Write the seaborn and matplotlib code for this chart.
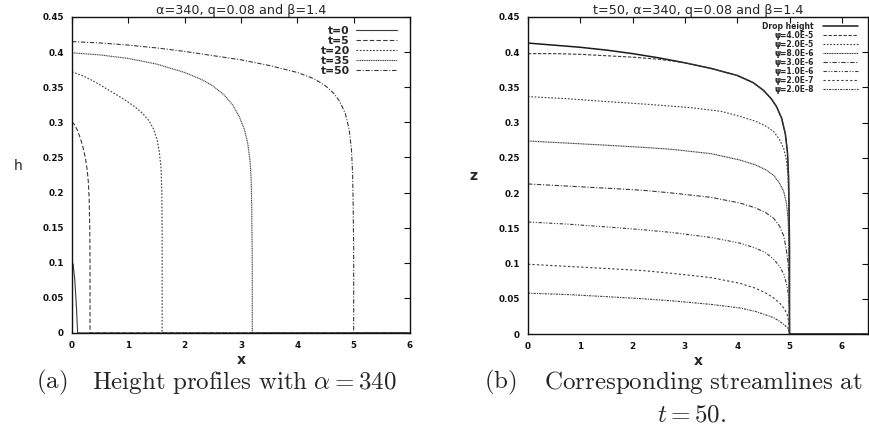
import numpy as np
import pandas as pd
import matplotlib
matplotlib.use("Agg")
import matplotlib.pyplot as plt
import seaborn as sns

# ---------------- data ----------------
t_labels = ["t=0", "t=5", "t=20", "t=35", "t=50"]
t0_x = [0.0, 0.02, 0.05, 0.08, 0.10, 6.0]
t0_h = [0.100, 0.098, 0.075, 0.035, 0.0, 0.0]
t5_x = [0.0, 0.05, 0.10, 0.15, 0.20, 0.24, 0.27, 0.29, 0.305, 0.315, 0.32, 0.32, 6.0]
t5_h = [0.301, 0.296, 0.288, 0.277, 0.263, 0.248, 0.232, 0.215, 0.19, 0.15, 0.10, 0.0, 0.0]
t20_x = [0.0, 0.2, 0.4, 0.67, 0.9, 1.1, 1.25, 1.37, 1.45, 1.51, 1.55, 1.58, 1.595, 1.6, 1.6, 6.0]
t20_h = [0.372, 0.366, 0.358, 0.345, 0.334, 0.323, 0.313, 0.302, 0.290, 0.275, 0.258, 0.235,
         0.20, 0.15, 0.0, 0.0]
t35_x = [0.0, 0.5, 1.0, 1.5, 2.0, 2.3, 2.5, 2.7, 2.85, 2.97, 3.06, 3.12, 3.16, 3.18, 3.19,
         3.2, 3.2, 6.0]
t35_h = [0.399, 0.396, 0.391, 0.383, 0.371, 0.361, 0.352, 0.339, 0.325, 0.308, 0.290, 0.270,
         0.245, 0.22, 0.18, 0.10, 0.0, 0.0]
t50_x = [0.0, 0.5, 1.0, 1.5, 2.0, 2.5, 3.0, 3.5, 4.0, 4.3, 4.5, 4.65, 4.75, 4.85, 4.92, 4.96,
         4.98, 4.99, 5.0, 5.0, 6.0]
t50_h = [0.415, 0.413, 0.410, 0.406, 0.401, 0.395, 0.389, 0.381, 0.371, 0.362, 0.352, 0.341,
         0.330, 0.313, 0.290, 0.262, 0.23, 0.19, 0.12, 0.0, 0.0]

psi_labels = ["Drop height", "\u03c8=4.0E-5", "\u03c8=2.0E-5", "\u03c8=8.0E-6",
              "\u03c8=3.0E-6", "\u03c8=1.0E-6", "\u03c8=2.0E-7", "\u03c8=2.0E-8"]
drop_x = [0.0, 0.5, 1.0, 1.5, 2.0, 2.5, 3.0, 3.5, 4.0, 4.3, 4.5, 4.65, 4.75, 4.85, 4.92,
          4.96, 4.98, 4.99, 5.0, 5.0, 6.5]
drop_z = [0.413, 0.410, 0.407, 0.403, 0.398, 0.392, 0.385, 0.377, 0.367, 0.357, 0.346, 0.334,
          0.323, 0.306, 0.284, 0.258, 0.225, 0.185, 0.12, 0.0, 0.0]
p1_x = [0.0, 0.5, 1.0, 1.5, 2.0, 2.5, 3.0, 3.5, 4.0, 4.3, 4.5, 4.65, 4.75, 4.85, 4.92, 4.96,
        4.98, 4.99, 5.0]
p1_z = [0.398, 0.398, 0.397, 0.395, 0.393, 0.390, 0.385, 0.377, 0.367, 0.357, 0.346, 0.334,
        0.323, 0.306, 0.284, 0.258, 0.225, 0.185, 0.0]
p2_x = [0.0, 0.75, 1.5, 2.3, 3.16, 3.7, 4.05, 4.35, 4.55, 4.7, 4.81, 4.89, 4.94, 4.97, 4.99, 5.0]
p2_z = [0.337, 0.334, 0.330, 0.326, 0.321, 0.316, 0.309, 0.302, 0.295, 0.287, 0.276, 0.263,
        0.247, 0.225, 0.176, 0.0]
p3_x = [0.0, 0.75, 1.5, 2.2, 2.77, 3.5, 4.05, 4.35, 4.55, 4.7, 4.81, 4.89, 4.94, 4.97, 4.99, 5.0]
p3_z = [0.274, 0.271, 0.268, 0.265, 0.262, 0.256, 0.247, 0.240, 0.233, 0.225, 0.214, 0.202,
        0.186, 0.165, 0.129, 0.0]
p4_x = [0.0, 0.75, 1.5, 2.2, 2.77, 3.5, 4.05, 4.35, 4.55, 4.7, 4.81, 4.89, 4.94, 4.97, 4.99, 5.0]
p4_z = [0.213, 0.210, 0.207, 0.204, 0.200, 0.194, 0.186, 0.179, 0.172, 0.164, 0.153, 0.139,
        0.119, 0.102, 0.082, 0.0]
p5_x = [0.0, 0.75, 1.5, 2.2, 2.77, 3.5, 4.05, 4.35, 4.55, 4.7, 4.81, 4.89, 4.94, 4.97, 4.99, 5.0]
p5_z = [0.159, 0.156, 0.152, 0.148, 0.144, 0.137, 0.129, 0.122, 0.115, 0.106, 0.096, 0.085,
        0.072, 0.060, 0.044, 0.0]
p6_x = [0.0, 0.75, 1.5, 2.2, 2.77, 3.5, 4.05, 4.35, 4.55, 4.7, 4.81, 4.9, 4.97, 5.0]
p6_z = [0.099, 0.096, 0.093, 0.090, 0.086, 0.080, 0.072, 0.065, 0.058, 0.051, 0.044, 0.036,
        0.025, 0.0]
p7_x = [0.0, 0.75, 1.5, 2.2, 2.77, 3.5, 4.05, 4.35, 4.55, 4.7, 4.81, 4.9, 4.97, 5.0]
p7_z = [0.058, 0.056, 0.053, 0.050, 0.047, 0.042, 0.037, 0.032, 0.027, 0.023, 0.018, 0.013,
        0.008, 0.0]

x_ticks_a = [0, 1, 2, 3, 4, 5, 6]
y_ticks = [0, 0.05, 0.1, 0.15, 0.2, 0.25, 0.3, 0.35, 0.4, 0.45]
y_tick_labels = ["0", "0.05", "0.1", "0.15", "0.2", "0.25", "0.3", "0.35", "0.4", "0.45"]

# ---------------- styling ----------------
sns.set_theme(style="white")
plt.rcParams["font.family"] = ["DejaVu Sans"]
plt.rcParams["mathtext.fontset"] = "cm"

fig = plt.figure(figsize=(8.69, 4.34), dpi=100)
axA = fig.add_axes([72 / 869, 101 / 434, 338 / 869, 316 / 434])
axB = fig.add_axes([528 / 869, 100 / 434, 340 / 869, 317 / 434])

lc = "#3a3a3a"
t_styles = ["-", (0, (4, 2)), (0, (1.5, 1.5)), (0, (1, 0.6)), (0, (4, 1.5, 1, 1.5))]
t_data = [(t0_x, t0_h), (t5_x, t5_h), (t20_x, t20_h), (t35_x, t35_h), (t50_x, t50_h)]
for lab, (xs, ys), ls in zip(t_labels, t_data, t_styles):
    df = pd.DataFrame({"x": xs, "h": ys})
    sns.lineplot(data=df, x="x", y="h", ax=axA, sort=False, estimator=None,
                 color=lc, linewidth=0.8, linestyle=ls, label=lab)

p_styles = ["-", (0, (3, 1.5)), (0, (1.5, 1.5)), (0, (1, 0.5)), (0, (4, 1.5, 1, 1.5)),
            (0, (3, 1.5, 1, 1.5, 1, 1.5)), (0, (2, 2)), (0, (2, 1, 1, 1))]
p_data = [(drop_x, drop_z), (p1_x, p1_z), (p2_x, p2_z), (p3_x, p3_z), (p4_x, p4_z),
          (p5_x, p5_z), (p6_x, p6_z), (p7_x, p7_z)]
for lab, (xs, ys), ls in zip(psi_labels, p_data, p_styles):
    df = pd.DataFrame({"x": xs, "z": ys})
    sns.lineplot(data=df, x="x", y="z", ax=axB, sort=False, estimator=None,
                 color="#1a1a1a" if lab == "Drop height" else lc,
                 linewidth=0.8 if lab != "Drop height" else 1.1,
                 linestyle=ls, label=lab)

for ax, xmax in ((axA, 6.0), (axB, 6.5)):
    ax.set_xlim(0, xmax)
    ax.set_ylim(0, 0.45)
    ax.set_xticks(x_ticks_a)
    ax.set_xticklabels([str(v) for v in x_ticks_a])
    ax.set_yticks(y_ticks)
    ax.set_yticklabels(y_tick_labels)
    ax.tick_params(direction="in", length=4, width=0.8, top=True, right=True,
                   labelsize=6.3, colors="#111111", pad=6, labelcolor="#111111")
    for lab in ax.get_xticklabels() + ax.get_yticklabels():
        lab.set_fontweight("bold")
    for s in ax.spines.values():
        s.set_color("#111111")
        s.set_linewidth(1.0)
    ax.set_xlabel("x", fontsize=10, fontweight="bold", labelpad=2)

axA.set_ylabel("h", fontsize=10, rotation=0, labelpad=22, va="center")
axB.set_ylabel("z", fontsize=10, fontweight="bold", rotation=0, labelpad=24, va="center")
axA.yaxis.set_label_coords(-0.16, 0.53)
axB.yaxis.set_label_coords(-0.16, 0.50)

axA.set_title("\u03b1=340, q=0.08 and \u03b2=1.4", fontsize=9.2, pad=2)
axB.set_title("t=50, \u03b1=340, q=0.08 and \u03b2=1.4", fontsize=9.2, pad=2)

legA = axA.legend(loc="upper right", bbox_to_anchor=(0.985, 0.995), frameon=False,
                  markerfirst=False, fontsize=7.8, handlelength=3.8, handletextpad=0.6,
                  labelspacing=0.0, borderpad=0.2)
legB = axB.legend(loc="upper right", bbox_to_anchor=(0.985, 1.0), frameon=False,
                  markerfirst=False, fontsize=5.5, handlelength=4.6, handletextpad=1.2,
                  labelspacing=0.0, borderpad=0.1, handleheight=0.3)
for leg in (legA, legB):
    for t in leg.get_texts():
        t.set_fontweight("bold")

fig.text(36 / 869, 1 - 382 / 434, r"$\mathrm{(a)}$", fontsize=18, ha="left", va="center")
fig.text(92 / 869, 1 - 382 / 434,
         r"$\mathrm{Height\ profiles\ with\ }\alpha = 340$",
         fontsize=18, ha="left", va="center")
fig.text(484 / 869, 1 - 382 / 434, r"$\mathrm{(b)}$", fontsize=18, ha="left", va="center")
fig.text(544 / 869, 1 - 382 / 434,
         r"$\mathrm{Corresponding\ streamlines\ at}$",
         fontsize=18, ha="left", va="center")
fig.text(692 / 869, 1 - 414 / 434, r"$t = 50.$",
         fontsize=18, ha="center", va="center")

fig.savefig("out.png", dpi=100, facecolor="white")
